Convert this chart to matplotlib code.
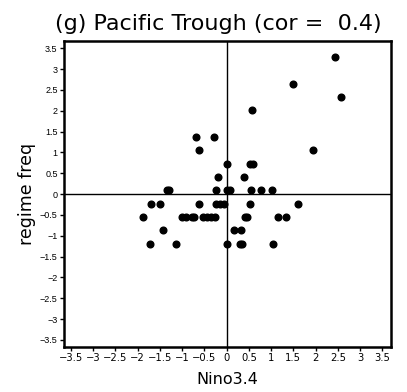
import matplotlib.pyplot as plt
import numpy as np

# Nino3.4 index and regime frequency anomalies
nino = [2.44, 1.49, 2.57, 0.57, -0.69, -0.29, -0.62, 1.94, 0.0, 0.53, 0.59, -0.2, 0.38,
        -1.35, -1.29, -0.23, 0.0, 0.08, 0.54, 0.78, 1.02,
        -1.70, -1.50, -0.62, -0.23, -0.15, -0.05, 0.53, 1.61,
        -1.87, -1.0, -0.92, -0.78, -0.74, -0.54, -0.45, -0.35, -0.26, 0.42, 0.46, 1.16, 1.34,
        -1.43, 0.17, 0.32,
        -1.73, -1.14, 0.01, 0.29, 0.34, 1.04]
freq = [3.29, 2.65, 2.33, 2.01, 1.37, 1.37, 1.05, 1.05, 0.73, 0.73, 0.73, 0.41, 0.41,
        0.09, 0.09, 0.09, 0.09, 0.09, 0.09, 0.09, 0.09,
        -0.23, -0.23, -0.23, -0.23, -0.23, -0.23, -0.23, -0.23,
        -0.55, -0.55, -0.55, -0.55, -0.55, -0.55, -0.55, -0.55, -0.55, -0.55, -0.55, -0.55, -0.55,
        -0.87, -0.87, -0.87,
        -1.19, -1.19, -1.19, -1.19, -1.19, -1.19]

ticks = np.arange(-3.5, 3.51, 0.5)
tick_labels = ['\u22123.5', '\u22123', '\u22122.5', '\u22122', '\u22121.5', '\u22121', '\u22120.5', '0',
               '0.5', '1', '1.5', '2', '2.5', '3', '3.5']

fig = plt.figure(figsize=(4.07, 3.92), dpi=100)
ax = fig.add_axes([0.157, 0.115, 0.804, 0.78])

ax.axhline(0, color='black', linewidth=1)
ax.axvline(0, color='black', linewidth=1)
ax.plot(nino, freq, 'o', color='black', markersize=4.8, zorder=3)

ax.set_xlim(-3.66, 3.7)
ax.set_ylim(-3.67, 3.67)
ax.set_xticks(ticks)
ax.set_xticklabels(tick_labels, fontsize=7.2)
ax.set_yticks(ticks)
ax.set_yticklabels(tick_labels, fontsize=6.5, family='Liberation Sans')
ax.tick_params(direction='out', length=3, width=1, pad=1.5)
for sp in ax.spines.values():
    sp.set_linewidth(1.8)

ax.set_xlabel('Nino3.4', fontsize=11.5, labelpad=6)
ax.set_ylabel('regime freq', fontsize=12.5, labelpad=3)
fig.text(218 / 407, 1 - 30 / 392, '(g) Pacific Trough (cor =  0.4)',
         fontsize=16, ha='center', va='baseline')

plt.savefig('out.png', dpi=100)
